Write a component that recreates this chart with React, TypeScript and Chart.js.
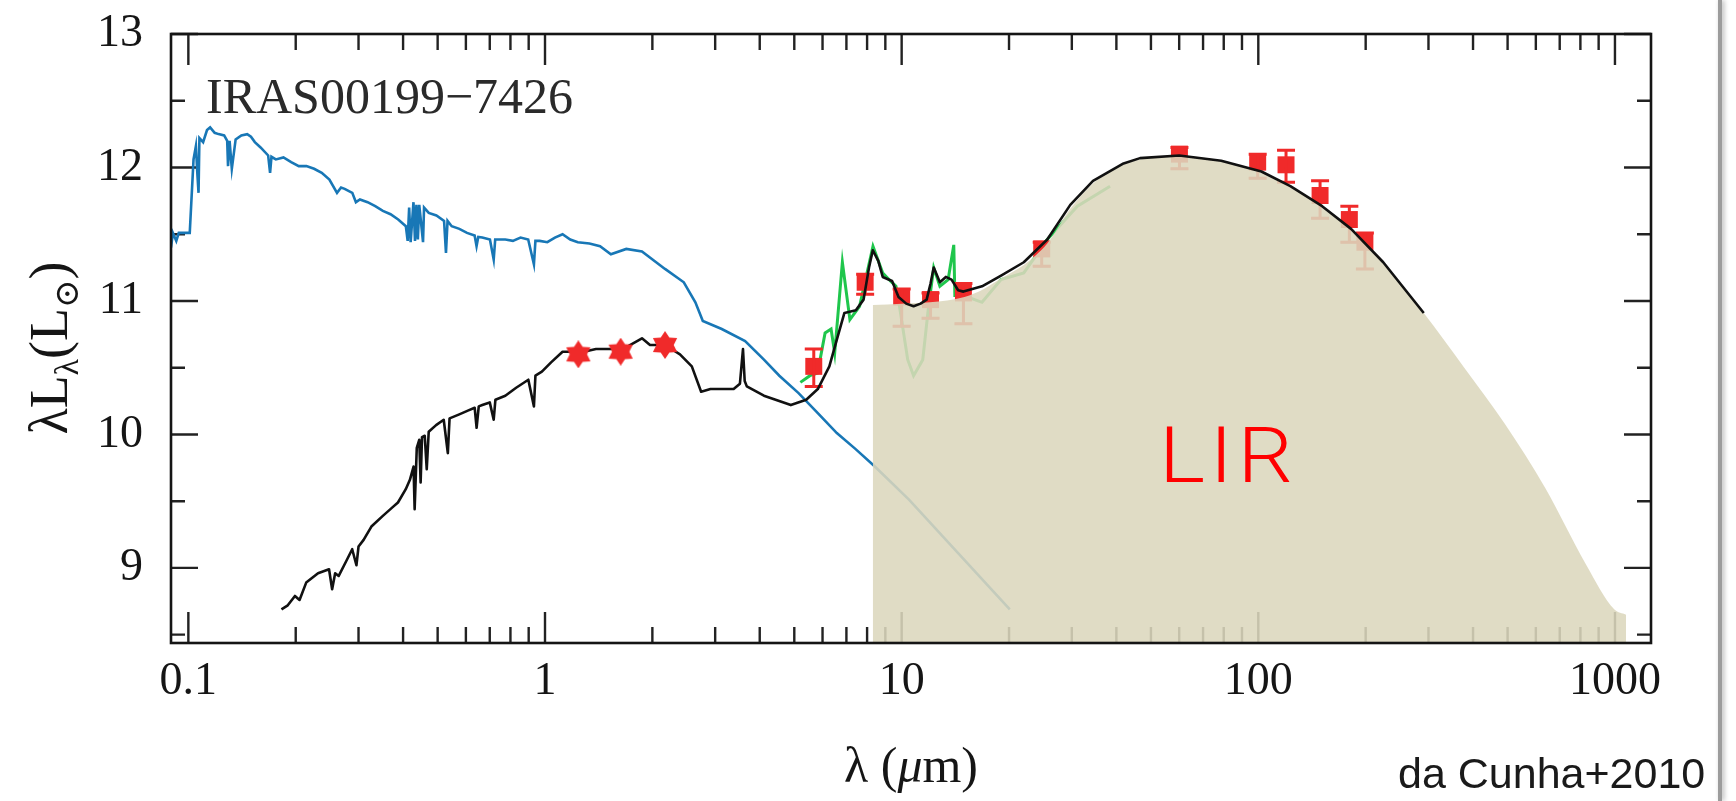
import React, { useEffect, useRef } from "react";
import { Chart, registerables } from "chart.js";

Chart.register(...registerables);

// ---------- axes ----------
const X_MIN = 0.0894;
const X_MAX = 1262;
const Y_MIN = 8.4375;
const Y_MAX = 13;

const xMajorTicks = [0.1, 1, 10, 100, 1000];
const xMajorLabels = ["0.1", "1", "10", "100", "1000"];
const xMinorTicks = [
  0.2, 0.3, 0.4, 0.5, 0.6, 0.7, 0.8, 0.9,
  2, 3, 4, 5, 6, 7, 8, 9,
  20, 30, 40, 50, 60, 70, 80, 90,
  200, 300, 400, 500, 600, 700, 800, 900,
];
const yMajorTicks = [9, 10, 11, 12, 13];
const yMinorTicks = [8.5, 9.5, 10.5, 11.5, 12.5];

// ---------- unattenuated stellar spectrum (blue) ----------
const blueLambda = [
  0.0894, 0.0905, 0.0925, 0.094, 0.1009, 0.1034, 0.105, 0.106, 0.1068, 0.1074,
  0.11, 0.1128, 0.1151, 0.1185, 0.1215, 0.126, 0.1285, 0.1292, 0.1305, 0.1324,
  0.1357, 0.1408, 0.1462, 0.1498, 0.1536, 0.1594, 0.1674, 0.1695, 0.171, 0.1759,
  0.1848, 0.1942, 0.204, 0.2143, 0.2252, 0.2366, 0.2486, 0.2611, 0.268, 0.2743,
  0.2882, 0.295, 0.3028, 0.3181, 0.3342, 0.3511, 0.3689, 0.3876, 0.4072, 0.412,
  0.416, 0.42, 0.4278, 0.432, 0.436, 0.44, 0.444, 0.455, 0.458, 0.4721,
  0.496, 0.5212, 0.5276, 0.533, 0.5475, 0.5753, 0.6043, 0.6349, 0.6428, 0.65,
  0.667, 0.7008, 0.718, 0.725, 0.7361, 0.7736, 0.8127, 0.8539, 0.8972, 0.9309,
  0.94, 0.966, 1.015, 1.066, 1.12, 1.177, 1.236, 1.332, 1.427, 1.53,
  1.69, 1.87, 2.17, 2.45, 2.64, 2.77, 3.13, 3.64, 4.11, 4.54,
  5.14, 5.82, 6.58, 7.43, 8.41, 10.5, 20.1,
];
const blueLum = [
  11.4, 11.51, 11.45, 11.51, 11.51, 12.06, 12.16, 11.95, 11.81, 12.22,
  12.19, 12.28, 12.3, 12.26, 12.25, 12.24, 12.2, 12.01, 12.2, 11.99,
  12.21, 12.24, 12.25, 12.23, 12.19, 12.15, 12.09, 11.96, 12.08, 12.06,
  12.075, 12.04, 12.01, 12.01, 11.99, 11.96, 11.91, 11.81, 11.85, 11.84,
  11.81, 11.74, 11.76, 11.74, 11.71, 11.675, 11.65, 11.61, 11.56, 11.45,
  11.7, 11.44, 11.74, 11.45, 11.72, 11.46, 11.72, 11.44, 11.7, 11.66,
  11.64, 11.6, 11.36, 11.6, 11.56, 11.54, 11.51, 11.49, 11.41, 11.48,
  11.475, 11.46, 11.31, 11.46, 11.46, 11.46, 11.45, 11.475, 11.46, 11.275,
  11.45, 11.45, 11.44, 11.475, 11.5, 11.46, 11.44, 11.43, 11.41, 11.35,
  11.39, 11.37, 11.24, 11.14, 10.99, 10.85, 10.79, 10.7, 10.56, 10.44,
  10.31, 10.16, 10.01, 9.89, 9.76, 9.51, 8.69,
];

// ---------- IRS spectrum (green) ----------
const greenLambda = [
  5.2, 5.53, 5.81, 6.1, 6.34, 6.49, 6.82, 7.16, 7.62, 8.31,
  8.85, 9.3, 9.64, 9.86, 10.4, 10.8, 11.46, 11.9, 12.3, 12.8,
  13.5, 14.0, 14.1, 14.9, 16.8, 19.0, 22.0, 25.6, 31.1, 38.4,
];
const greenLum = [
  10.39, 10.44, 10.46, 10.76, 10.79, 10.61, 11.29, 10.86, 10.96, 11.41,
  11.21, 11.15, 11.11, 10.96, 10.56, 10.44, 10.56, 10.96, 11.25, 11.11,
  11.16, 11.42, 11.04, 11.04, 10.99, 11.16, 11.21, 11.46, 11.71, 11.86,
];

// ---------- total model SED (black) ----------
const blackLambda = [
  0.1824, 0.19, 0.199, 0.205, 0.214, 0.231, 0.248, 0.253, 0.258, 0.264,
  0.277, 0.288, 0.296, 0.3, 0.31, 0.326, 0.351, 0.372, 0.387, 0.407,
  0.418, 0.428, 0.431, 0.437, 0.444, 0.448, 0.452, 0.46, 0.466, 0.472,
  0.495, 0.52, 0.534, 0.54, 0.575, 0.61, 0.635, 0.643, 0.652, 0.667,
  0.7, 0.718, 0.726, 0.774, 0.83, 0.898, 0.931, 0.94, 0.98, 1.04,
  1.12, 1.17, 1.24, 1.39, 1.55, 1.63, 1.87, 1.97, 2.17, 2.39,
  2.58, 2.74, 2.91, 3.38, 3.52, 3.59, 3.63, 3.68, 4.11, 4.89,
  5.4, 5.82, 6.27, 6.58, 6.91, 7.44, 7.82, 8.1, 8.3, 8.6,
  8.85, 9.4, 9.8, 10.3, 10.8, 11.3, 11.75, 12.05, 12.3, 12.8,
  13.3, 13.8, 14.4, 14.9, 16.8, 19, 22, 25.6, 29.7, 34.4,
  41.9, 46.6, 60, 78.7, 102, 123, 151, 182, 224, 291,
];
const blackLum = [
  8.69, 8.72, 8.79, 8.76, 8.89, 8.96, 8.99, 8.84, 8.96, 8.94,
  9.05, 9.14, 9.02, 9.16, 9.21, 9.31, 9.39, 9.45, 9.49, 9.59,
  9.66, 9.76, 9.44, 9.9, 9.96, 9.64, 9.98, 9.99, 9.74, 10.02,
  10.07, 10.11, 9.86, 10.12, 10.15, 10.18, 10.2, 10.05, 10.21, 10.22,
  10.24, 10.11, 10.26, 10.29, 10.35, 10.41, 10.21, 10.44, 10.47, 10.54,
  10.62, 10.62, 10.61, 10.64, 10.64, 10.63, 10.72, 10.67, 10.67, 10.6,
  10.51, 10.32, 10.34, 10.34, 10.38, 10.64, 10.4, 10.36, 10.29, 10.22,
  10.26, 10.34, 10.51, 10.71, 10.91, 10.93, 11.01, 11.25, 11.38, 11.3,
  11.18, 11.15, 11.03, 10.98, 10.96, 10.98, 11.01, 11.13, 11.25, 11.14,
  11.18, 11.16, 11.08, 11.07, 11.11, 11.19, 11.29, 11.46, 11.72, 11.9,
  12.03, 12.07, 12.09, 12.05, 11.97, 11.86, 11.71, 11.54, 11.29, 10.91,
];

// ---------- dust emission (shaded LIR area) ----------
const dustLambda = [
  8.3, 10, 12, 15, 17, 19, 22, 25.6, 29.7, 34.4, 40, 46.6, 60,
  78.7, 102, 123, 151, 182, 224, 291, 378, 491, 637, 828, 995, 1074,
];
const dustLum = [
  10.97, 10.98, 10.99, 11.03, 11.09, 11.17, 11.27, 11.43, 11.69, 11.88, 12.0, 12.06, 12.09,
  12.05, 11.97, 11.86, 11.71, 11.54, 11.29, 10.91, 10.5, 10.08, 9.6, 9.03, 8.69, 8.65,
];

// ---------- photometry ----------
const nirLambda = [1.24, 1.63, 2.17];
const nirLum = [10.6, 10.62, 10.67];

const photLambda = [5.67, 7.9, 10.0, 12.05, 14.9, 24.7, 60.1, 99.6, 119.6, 149, 180, 199];
const photLum = [10.51, 11.14, 11.03, 11.01, 11.06, 11.39, 12.1, 12.04, 12.02, 11.79, 11.61, 11.44];
const photErrUp = [0.13, 0.06, 0.06, 0.05, 0.07, 0.05, 0.05, 0.06, 0.11, 0.11, 0.1, 0.07];
const photErrDown = [0.15, 0.09, 0.22, 0.14, 0.23, 0.13, 0.11, 0.12, 0.13, 0.17, 0.17, 0.2];

// ---------- texts ----------
const objectName = "IRAS00199\u22127426";
const areaLabel = "LIR";
const sourceNote = "da Cunha+2010";

// ---------- styles ----------
const SERIF = '"Liberation Serif", "DejaVu Serif", serif';
const SANS = 'Roboto, "Liberation Sans", Arial, sans-serif';
const BLUE = "#1877b6";
const GREEN = "#1fc64c";
const RED = "#f02a2a";
const FILL = "rgba(220,215,189,0.88)";
const INK = "#151515";

function makeStar(size: number, color: string): HTMLCanvasElement {
  const c = document.createElement("canvas");
  c.width = size;
  c.height = size;
  const g = c.getContext("2d")!;
  const r = size / 2;
  g.fillStyle = color;
  g.beginPath();
  for (let k = 0; k < 12; k++) {
    const ang = -Math.PI / 2 + (k * Math.PI) / 6;
    const rr = k % 2 === 0 ? r : r * 0.62;
    const px = r + rr * Math.cos(ang);
    const py = r + rr * Math.sin(ang);
    if (k === 0) g.moveTo(px, py);
    else g.lineTo(px, py);
  }
  g.closePath();
  g.fill();
  return c;
}

const frameAndTicks = {
  id: "frameAndTicks",
  beforeDatasetsDraw(chart: any) {
    const { ctx, chartArea: a, scales } = chart;
    const x = scales.x;
    const y = scales.y;
    ctx.save();
    ctx.strokeStyle = "#222";
    ctx.lineWidth = 2.4;
    ctx.beginPath();
    const allX = [...xMajorTicks, ...xMinorTicks];
    for (const v of allX) {
      const px = x.getPixelForValue(v);
      const len = xMajorTicks.includes(v) ? 31 : 16;
      ctx.moveTo(px, a.bottom);
      ctx.lineTo(px, a.bottom - len);
      ctx.moveTo(px, a.top);
      ctx.lineTo(px, a.top + len);
    }
    const allY = [...yMajorTicks, ...yMinorTicks];
    for (const v of allY) {
      const py = y.getPixelForValue(v);
      const len = yMajorTicks.includes(v) ? 27 : 14;
      ctx.moveTo(a.left, py);
      ctx.lineTo(a.left + len, py);
      ctx.moveTo(a.right, py);
      ctx.lineTo(a.right - len, py);
    }
    ctx.stroke();
    ctx.restore();
  },
  afterDatasetDraw(chart: any, args: any) {
    const ds = chart.data.datasets[args.index];
    if (!ds || ds.label !== "photometry") return;
    const { ctx, scales } = chart;
    const x = scales.x;
    const y = scales.y;
    ctx.save();
    ctx.strokeStyle = RED;
    ctx.lineWidth = 3;
    ctx.beginPath();
    for (let i = 0; i < photLambda.length; i++) {
      const px = x.getPixelForValue(photLambda[i]);
      const top = y.getPixelForValue(photLum[i] + photErrUp[i]);
      const bot = y.getPixelForValue(photLum[i] - photErrDown[i]);
      ctx.moveTo(px, top);
      ctx.lineTo(px, bot);
      ctx.moveTo(px - 9, top);
      ctx.lineTo(px + 9, top);
      ctx.moveTo(px - 9, bot);
      ctx.lineTo(px + 9, bot);
    }
    ctx.stroke();
    ctx.restore();
  },
  afterDatasetsDraw(chart: any) {
    const { ctx, chartArea: a } = chart;
    ctx.save();
    ctx.strokeStyle = INK;
    ctx.lineWidth = 2.6;
    ctx.strokeRect(a.left, a.top, a.right - a.left, a.bottom - a.top);
    ctx.restore();
  },
  afterDraw(chart: any) {
    const { ctx, chartArea: a } = chart;
    ctx.save();
    // object name
    ctx.fillStyle = "#2a2a2a";
    ctx.font = `50px ${SERIF}`;
    ctx.textAlign = "left";
    ctx.textBaseline = "alphabetic";
    ctx.fillText(objectName, 206, 113);

    // LIR label (stretched to the reference width)
    ctx.save();
    ctx.fillStyle = "#ff0000";
    ctx.font = `300 78px ${SANS}`;
    (ctx as any).letterSpacing = "4px";
    const lirW = ctx.measureText(areaLabel).width - 4;
    const sx = 134 / lirW;
    ctx.scale(sx, 1);
    ctx.fillText(areaLabel, 1159 / sx, 482);
    ctx.restore();

    // x axis title: λ (μm)
    const cx = (a.left + a.right) / 2;
    const big = `50px ${SERIF}`;
    const ital = `italic 50px ${SERIF}`;
    ctx.fillStyle = INK;
    const xParts = [
      { t: "\u03bb (", f: big },
      { t: "\u03bc", f: ital },
      { t: "m)", f: big },
    ];
    let total = 0;
    for (const p of xParts) {
      ctx.font = p.f;
      total += ctx.measureText(p.t).width;
    }
    let xx = cx - total / 2;
    for (const p of xParts) {
      ctx.font = p.f;
      ctx.fillText(p.t, xx, 782);
      xx += ctx.measureText(p.t).width;
    }

    // y axis title: λL_λ(L_⊙)
    const yBig = `54px ${SERIF}`;
    const ySmall = `34px ${SERIF}`;
    const yParts = [
      { t: "\u03bbL", f: yBig, dy: 0 },
      { t: "\u03bb", f: ySmall, dy: 11 },
      { t: "(L", f: yBig, dy: 0 },
      { t: "\u2299", f: ySmall, dy: 11 },
      { t: ")", f: yBig, dy: 0 },
    ];
    ctx.translate(50, 348);
    ctx.rotate(-Math.PI / 2);
    let ytot = 0;
    for (const p of yParts) {
      ctx.font = p.f;
      ytot += ctx.measureText(p.t).width;
    }
    let yy = -ytot / 2;
    for (const p of yParts) {
      ctx.font = p.f;
      ctx.fillText(p.t, yy, 17 + p.dy);
      yy += ctx.measureText(p.t).width;
    }
    ctx.restore();
  },
};

export default function App() {
  const ref = useRef<HTMLCanvasElement>(null);

  useEffect(() => {
    const canvas = ref.current;
    if (!canvas) return;
    const pts = (xs: number[], ys: number[]) => xs.map((v, i) => ({ x: v, y: ys[i] }));
    const star = makeStar(28, RED);

    const chart = new Chart(canvas, {
      type: "line",
      data: {
        datasets: [
          {
            label: "stellar",
            data: pts(blueLambda, blueLum),
            borderColor: BLUE,
            borderWidth: 2.6,
            pointRadius: 0,
            fill: false,
            order: 6,
          },
          {
            label: "irs",
            data: pts(greenLambda, greenLum),
            borderColor: GREEN,
            borderWidth: 3,
            pointRadius: 0,
            fill: false,
            order: 6,
          },
          {
            label: "photometry",
            type: "scatter",
            data: pts(photLambda, photLum),
            pointStyle: "rect",
            pointRadius: 12,
            backgroundColor: RED,
            borderColor: RED,
            borderWidth: 0,
            order: 5,
          },
          {
            label: "dust",
            data: pts(dustLambda, dustLum),
            borderColor: "rgba(0,0,0,0)",
            borderWidth: 0,
            backgroundColor: FILL,
            fill: "start",
            pointRadius: 0,
            cubicInterpolationMode: "monotone",
            order: 3,
          },
          {
            label: "model",
            data: pts(blackLambda, blackLum),
            borderColor: "#111",
            borderWidth: 2.6,
            borderJoinStyle: "round",
            pointRadius: 0,
            fill: false,
            order: 2,
          },
          {
            label: "nir",
            type: "scatter",
            data: pts(nirLambda, nirLum),
            pointStyle: star,
            pointRadius: 14,
            backgroundColor: RED,
            order: 1,
          },
        ] as any,
      },
      options: {
        responsive: false,
        maintainAspectRatio: false,
        animation: false,
        devicePixelRatio: 1,
        events: [],
        layout: { padding: { top: 34, right: 85, left: 0, bottom: 0 } },
        plugins: {
          legend: { display: false },
          tooltip: { enabled: false },
          title: { display: false },
        },
        scales: {
          x: {
            type: "logarithmic",
            position: "bottom",
            min: X_MIN,
            max: X_MAX,
            grid: { display: false, drawTicks: false },
            border: { display: false },
            afterBuildTicks: (s: any) => {
              s.ticks = [...xMajorTicks, ...xMinorTicks]
                .sort((p, q) => p - q)
                .map((v) => ({ value: v }));
            },
            afterFit: (s: any) => {
              s.height = 158;
              s.paddingLeft = 0;
              s.paddingRight = 0;
              s.paddingTop = 0;
              s.paddingBottom = 0;
            },
            ticks: {
              autoSkip: false,
              maxRotation: 0,
              minRotation: 0,
              padding: 11,
              color: INK,
              font: { family: SERIF, size: 46 },
              callback: (v: any) => {
                const i = xMajorTicks.indexOf(Number(v));
                return i >= 0 ? xMajorLabels[i] : "";
              },
            },
          },
          y: {
            type: "linear",
            min: Y_MIN,
            max: Y_MAX,
            grid: { display: false, drawTicks: false },
            border: { display: false },
            afterBuildTicks: (s: any) => {
              s.ticks = yMajorTicks.map((v) => ({ value: v }));
            },
            afterFit: (s: any) => {
              s.width = 171;
              s.paddingLeft = 0;
              s.paddingRight = 0;
              s.paddingTop = 0;
              s.paddingBottom = 0;
            },
            ticks: {
              padding: 28,
              color: INK,
              font: { family: SERIF, size: 46 },
              callback: (v: any) => String(v),
            },
          },
        },
      } as any,
      plugins: [frameAndTicks],
    });
    return () => chart.destroy();
  }, []);

  return (
    <div
      style={{
        position: "absolute",
        left: 0,
        top: 0,
        width: 1736,
        height: 801,
        background: "#fff",
        overflow: "hidden",
      }}
    >
      <canvas ref={ref} width={1736} height={801} style={{ display: "block" }} />
      <div
        style={{
          position: "absolute",
          left: 1718,
          top: 0,
          width: 4,
          height: 801,
          background: "#9c9c9c",
          boxShadow: "2px 0 5px rgba(0,0,0,0.3)",
        }}
      />
      <div
        style={{
          position: "absolute",
          left: 1398,
          top: 752,
          fontFamily: '"Liberation Sans", Helvetica, Arial, sans-serif',
          fontWeight: 300,
          fontSize: 43,
          lineHeight: "43px",
          color: "#1a1a1a",
          whiteSpace: "nowrap",
        }}
      >
        {sourceNote}
      </div>
    </div>
  );
}
